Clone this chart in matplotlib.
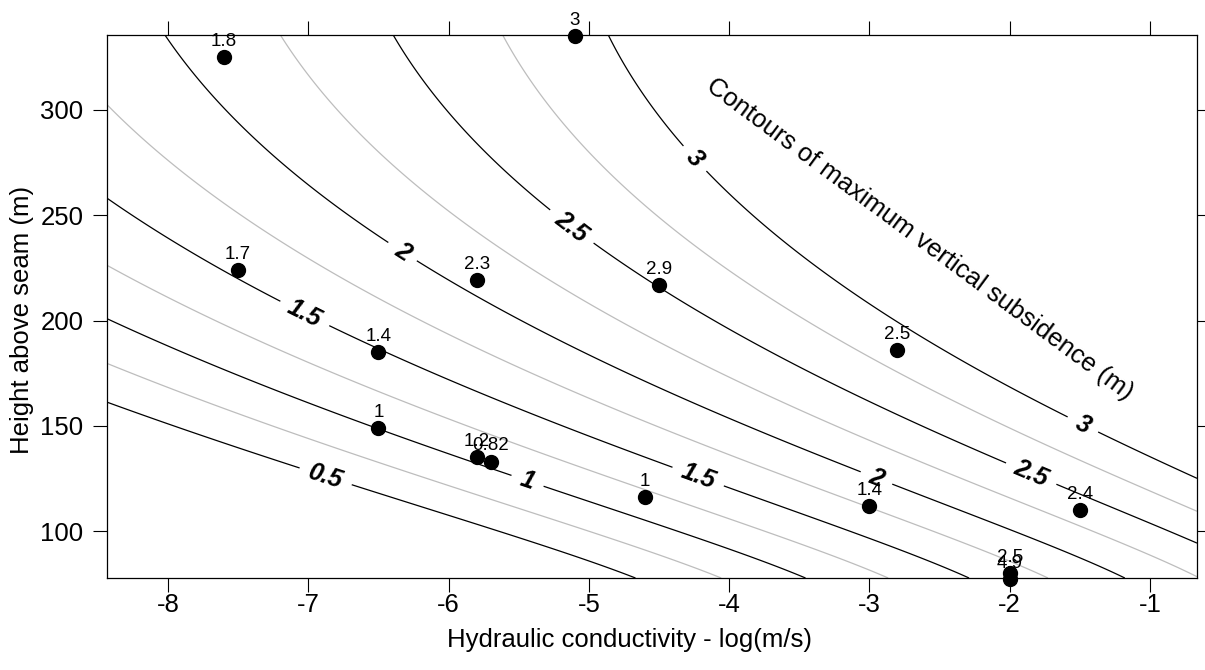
import numpy as np
import matplotlib.pyplot as plt

plt.rcParams['font.family'] = ['Liberation Sans', 'DejaVu Sans']
plt.rcParams['axes.unicode_minus'] = False

# Pontos observados: log da condutividade hidráulica, altura acima da camada, subsidência
cond = [-7.6, -5.1, -7.5, -5.8, -4.5, -2.8, -6.5, -6.5, -5.8, -5.7, -4.6, -3.0, -1.5, -2.0, -2.0]
altura = [325, 335, 224, 219, 217, 186, 185, 149, 135, 133, 116, 112, 110, 80, 77]
rotulos = ['1.8', '3', '1.7', '2.3', '2.9', '2.5', '1.4', '1', '1.2', '0.82', '1', '1.4', '2.4', '2.5', '4.9']

# Níveis de contorno (pretos com rótulo, cinzas intermediários)
niveis_pretos = [0.5, 1.0, 1.5, 2.0, 2.5, 3.0]
niveis_cinza = [0.75, 1.25, 1.75, 2.25, 2.75]

# Pontos lidos sobre cada curva de contorno da figura original
traco_nivel = ([0.5] * 6 + [0.75] * 5 + [1.0] * 8 + [1.25] * 5 + [1.5] * 8 + [1.75] * 5
               + [2.0] * 9 + [2.25] * 4 + [2.5] * 9 + [2.75] * 5 + [3.0] * 8)
traco_x = [-8.435, -6.88, -6.70, -5.21, -4.92, -4.68,
           -8.435, -7.42, -5.21, -4.92, -4.05,
           -8.435, -7.39, -6.50, -5.75, -5.44, -5.21, -4.92, -3.43,
           -8.435, -7.42, -5.21, -4.61, -2.85,
           -8.435, -7.51, -7.02, -6.50, -5.21, -4.23, -2.78, -2.27,
           -8.435, -7.42, -4.92, -2.78, -1.72,
           -8.0, -6.43, -5.80, -4.92, -4.28, -3.80, -2.95, -2.78, -1.14,
           -7.18, -3.64, -2.78, -0.71,
           -6.37, -5.14, -4.92, -4.50, -3.02, -2.78, -2.43, -1.86, -0.665,
           -5.59, -4.92, -3.97, -2.43, -0.665,
           -4.88, -4.31, -4.21, -2.83, -2.43, -1.83, -1.48, -0.665]
traco_y = [161.3, 125.2, 120.9, 88.6, 82.4, 77.7,
           180.3, 154.2, 102.9, 97.1, 77.7,
           201.7, 171.7, 148.9, 134.2, 123.3, 118.1, 110.9, 77.7,
           225.9, 193.9, 133.7, 115.0, 77.7,
           256.3, 223.5, 204.0, 187.4, 151.3, 124.2, 89.5, 77.7,
           299.0, 245.4, 162.2, 103.8, 77.7,
           335.6, 236.8, 215.4, 182.7, 162.2, 148.0, 125.2, 120.4, 77.7,
           335.6, 162.2, 138.5, 77.7,
           335.6, 243.0, 232.9, 216.9, 162.2, 155.1, 143.2, 125.2, 93.8,
           335.6, 265.4, 224.0, 162.7, 110.0,
           335.6, 272.9, 266.7, 200.2, 183.6, 162.2, 150.4, 125.7]

# Posições aproximadas dos rótulos das curvas
pos_rotulos = [(-6.88, 125.2), (-5.44, 123.3), (-7.02, 204.0), (-4.23, 124.2),
               (-6.33, 232.5), (-2.95, 125.2), (-5.14, 243.0), (-1.86, 125.2),
               (-4.31, 272.9), (-1.48, 150.4)]

xlim = (-8.435, -0.665)
ylim = (77.7, 335.6)


def base(x, y):
    '''Base polinomial cúbica em (x, log y), normalizada.'''
    u = (np.asarray(x) + 4.5) / 4.0
    v = (np.log(np.asarray(y)) - np.log(160)) / 0.75
    return np.stack([np.ones_like(u), u, v, u**2, u * v, v**2,
                     u**3, u**2 * v, u * v**2, v**3], axis=-1)


# Ajuste da superfície aos pontos lidos (pontos da borda pesam mais)
tx = np.array(traco_x)
ty = np.array(traco_y)
peso = np.where((tx <= xlim[0]) | (tx >= xlim[1]) | (ty <= ylim[0]) | (ty >= ylim[1]), 3.0, 1.0)
coef, *_ = np.linalg.lstsq(base(tx, ty) * peso[:, None], np.array(traco_nivel) * peso, rcond=None)

gx = np.linspace(xlim[0], xlim[1], 300)
gy = np.linspace(ylim[0], ylim[1], 300)
GX, GY = np.meshgrid(gx, gy)
GZ = base(GX, GY) @ coef

fig = plt.figure(figsize=(12.05, 6.7), dpi=100)
ax = fig.add_axes([107 / 1205, 1 - 578 / 670, 1090 / 1205, 543 / 670])

ax.contour(GX, GY, GZ, levels=niveis_cinza, colors='#bdbdbd', linewidths=0.9)
cs = ax.contour(GX, GY, GZ, levels=niveis_pretos, colors='black', linewidths=0.9)
txts = ax.clabel(cs, fmt='%g', fontsize=18, manual=pos_rotulos, inline=True, inline_spacing=10)
for t in txts:
    t.set_fontweight('bold')
    t.set_fontstyle('italic')

ax.scatter(cond, altura, s=100, color='black', zorder=5, clip_on=False)
for x, y, r in zip(cond, altura, rotulos):
    ax.annotate(r, (x, y), xytext=(0, 8), textcoords='offset points',
                ha='center', va='baseline', fontsize=13.5, annotation_clip=False)

ax.text(-2.64, 238.5, 'Contours of maximum vertical subsidence (m)', rotation=-36.5,
        rotation_mode='anchor', ha='center', va='center', fontsize=18.5)

ax.set_xlim(xlim)
ax.set_ylim(ylim)
ax.set_xticks(range(-8, 0))
ax.set_yticks(range(100, 301, 50))
ax.tick_params(direction='out', length=10, width=0.8, labelsize=18.5,
               top=True, right=True, labeltop=False, labelright=False)
ax.tick_params(axis='x', pad=1)
ax.tick_params(axis='y', pad=7)
for s in ax.spines.values():
    s.set_linewidth(0.9)

ax.set_xlabel('Hydraulic conductivity - log(m/s)', fontsize=18.5)
ax.set_ylabel('Height above seam (m)', fontsize=18.5)
ax.xaxis.set_label_coords(0.479, -0.114)
ax.xaxis.label.set_va('center')
ax.yaxis.set_label_coords(-0.078, 0.475)
ax.yaxis.label.set_va('center')

fig.savefig('out.png', dpi=100)
